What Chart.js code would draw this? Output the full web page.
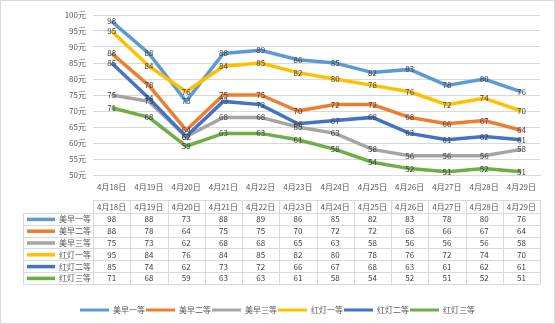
<!DOCTYPE html>
<html>
<head>
<meta charset="utf-8">
<script src="https://cdn.jsdelivr.net/npm/chart.js@4/dist/chart.umd.min.js"></script>
<style>
  html, body { margin: 0; padding: 0; background: #fff; }
  #wrap { width: 555px; height: 324px; }
</style>
</head>
<body>
<div id="wrap"><canvas id="c" width="555" height="324"></canvas></div>
<script>
const categories = ['4月18日','4月19日','4月20日','4月21日','4月22日','4月23日','4月24日','4月25日','4月26日','4月27日','4月28日','4月29日'];
const seriesNames = ['美早一等','美早二等','美早三等','红灯一等','红灯二等','红灯三等'];
const meizao1   = [98,88,73,88,89,86,85,82,83,78,80,76];
const meizao2   = [88,78,64,75,75,70,72,72,68,66,67,64];
const meizao3   = [75,73,62,68,68,65,63,58,56,56,56,58];
const hongdeng1 = [95,84,76,84,85,82,80,78,76,72,74,70];
const hongdeng2 = [85,74,62,73,72,66,67,68,63,61,62,61];
const hongdeng3 = [71,68,59,63,63,61,58,54,52,51,52,51];
const seriesValues = [meizao1, meizao2, meizao3, hongdeng1, hongdeng2, hongdeng3];
const seriesColors = ['#5B9BD5','#ED7D31','#A5A5A5','#FFC000','#4472C4','#70AD47'];
const yMin = 50, yMax = 100, yStep = 5, yUnit = '元';

const FONT = '"Noto Sans CJK SC", "Noto Sans", sans-serif';
const TEXT = '#595959';
const GRID = '#D9D9D9';

const datasets = seriesValues.map((vals, i) => ({
  label: seriesNames[i],
  data: vals,
  borderColor: seriesColors[i],
  backgroundColor: seriesColors[i],
  borderWidth: 3.5,
  pointRadius: 0,
  tension: 0,
  fill: false,
  yAxisID: 'y',
  order: seriesValues.length - i
}));

const bgPlugin = {
  id: 'bg',
  beforeDraw(chart) {
    const ctx = chart.ctx;
    ctx.save();
    ctx.fillStyle = '#fff';
    ctx.fillRect(0, 0, chart.width, chart.height);
    ctx.strokeStyle = GRID;
    ctx.lineWidth = 1;
    ctx.strokeRect(0.5, 0.5, chart.width - 1, chart.height - 1);
    ctx.restore();
  }
};

const labelPlugin = {
  id: 'valueLabels',
  afterDatasetsDraw(chart) {
    const ctx = chart.ctx;
    ctx.save();
    ctx.font = '8px ' + FONT;
    ctx.fillStyle = '#404040';
    ctx.textAlign = 'center';
    ctx.textBaseline = 'middle';
    chart.data.datasets.forEach((ds, di) => {
      const meta = chart.getDatasetMeta(di);
      meta.data.forEach((pt, i) => {
        ctx.fillText(String(ds.data[i]), pt.x, pt.y);
      });
    });
    ctx.restore();
  }
};

const tablePlugin = {
  id: 'dataTable',
  afterDraw(chart) {
    const ctx = chart.ctx;
    const xs = chart.scales.x;
    const area = chart.chartArea;
    const n = categories.length;
    const colW = (area.right - area.left) / n;
    const headTop = area.bottom + 25;
    const headH = 13;
    const rowH = 11.8;
    const leftX = 23;
    const nRows = seriesValues.length;
    const bottom = headTop + headH + rowH * nRows;
    ctx.save();
    ctx.strokeStyle = GRID;
    ctx.lineWidth = 1;
    const px = v => Math.round(v) + 0.5;
    ctx.beginPath();
    ctx.moveTo(area.left, px(headTop)); ctx.lineTo(area.right, px(headTop));
    for (let r = 0; r <= nRows; r++) {
      const y = px(headTop + headH + r * rowH);
      ctx.moveTo(leftX, y); ctx.lineTo(area.right, y);
    }
    ctx.moveTo(px(leftX), headTop + headH); ctx.lineTo(px(leftX), bottom);
    for (let c = 0; c <= n; c++) {
      const x = px(area.left + c * colW);
      ctx.moveTo(x, headTop); ctx.lineTo(x, bottom);
    }
    ctx.stroke();

    ctx.font = '8px ' + FONT;
    ctx.textBaseline = 'middle';
    ctx.textAlign = 'center';
    ctx.fillStyle = TEXT;
    categories.forEach((cat, i) => {
      ctx.fillText(cat, xs.getPixelForValue(i), headTop + headH / 2 + 0.5);
    });
    seriesValues.forEach((vals, r) => {
      const yc = headTop + headH + r * rowH + rowH / 2 + 0.5;
      ctx.strokeStyle = seriesColors[r];
      ctx.lineWidth = 3.5;
      ctx.beginPath();
      ctx.moveTo(27, yc); ctx.lineTo(55, yc);
      ctx.stroke();
      ctx.fillStyle = TEXT;
      ctx.textAlign = 'left';
      ctx.fillText(seriesNames[r], 59, yc);
      ctx.textAlign = 'center';
      ctx.fillStyle = '#404040';
      vals.forEach((v, i) => ctx.fillText(String(v), xs.getPixelForValue(i), yc));
    });
    ctx.restore();
  }
};

new Chart(document.getElementById('c'), {
  type: 'line',
  data: { labels: categories, datasets },
  options: {
    responsive: false,
    animation: false,
    devicePixelRatio: 1,
    layout: { padding: { top: 15, right: 0, bottom: 0, left: 0 } },
    plugins: {
      tooltip: { enabled: false },
      legend: {
        position: 'bottom',
        labels: {
          boxWidth: 29,
          boxHeight: 3,
          padding: 1,
          color: TEXT,
          font: { size: 8, family: FONT },
          generateLabels(chart) {
            return chart.data.datasets.map((ds, i) => ({
              text: ds.label,
              fillStyle: ds.borderColor,
              strokeStyle: ds.borderColor,
              lineWidth: 0,
              hidden: false,
              datasetIndex: i,
              fontColor: TEXT
            }));
          }
        }
      }
    },
    scales: {
      x: {
        offset: true,
        grid: { display: false, drawTicks: false },
        border: { display: true, color: GRID, width: 1 },
        ticks: { color: TEXT, font: { size: 8, family: FONT }, padding: 7, maxRotation: 0, autoSkip: false },
        afterFit(scale) { scale.height = 130; }
      },
      y: {
        position: 'left',
        min: yMin, max: yMax,
        grid: { color: GRID, drawTicks: false },
        border: { display: false },
        ticks: {
          stepSize: yStep,
          color: TEXT,
          font: { size: 8, family: FONT },
          padding: 7,
          callback: v => v + yUnit
        },
        afterFit(scale) { scale.width = 93; }
      },
      yRight: {
        position: 'right',
        display: true,
        min: yMin, max: yMax,
        grid: { display: false, drawTicks: false },
        border: { display: false },
        ticks: { display: false },
        afterFit(scale) { scale.width = 15; }
      }
    }
  },
  plugins: [bgPlugin, labelPlugin, tablePlugin]
});
</script>
</body>
</html>
